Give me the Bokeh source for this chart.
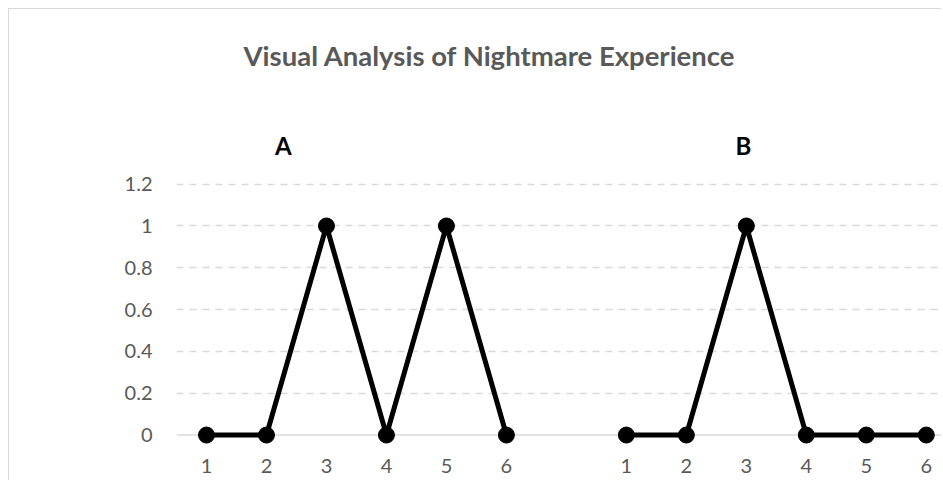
from bokeh.plotting import figure
from bokeh.models import FixedTicker, Range1d, Title, Span
from bokeh.core.properties import value
from bokeh.embed import file_html
from bokeh.resources import INLINE

# data
a_labels = ["1", "2", "3", "4", "5", "6"]
a_values = [0, 0, 1, 0, 1, 0]
b_labels = ["1", "2", "3", "4", "5", "6"]
b_values = [0, 0, 1, 0, 0, 0]
y_ticks = [0, 0.2, 0.4, 0.6, 0.8, 1.0, 1.2]
y_tick_labels = ["0", "0.2", "0.4", "0.6", "0.8", "1", "1.2"]
panel_names = ["A", "B"]
title_text = "Visual Analysis of Nightmare Experience"

FONT = "Lato"
GRAY = "#595959"

a_x = list(range(len(a_values)))
b_x = [len(a_values) + 1 + i for i in range(len(b_values))]

p = figure(width=933, height=472, output_backend="svg", toolbar_location=None,
           x_range=Range1d(-0.5, 12.27), y_range=Range1d(-0.05, 1.605),
           min_border_left=167, min_border_right=0, min_border_top=88,
           min_border_bottom=36)
p.outline_line_color = None
p.styles = {"margin-left": "8px", "margin-top": "8px",
            "border-top": "1px solid #d9d9d9", "border-left": "1px solid #d9d9d9"}

t = Title(text=title_text, text_font=FONT, text_font_size="27.5px", text_font_style="bold",
          text_color=GRAY, align="left", offset=67, standoff=55)
p.add_layout(t, "above")

# zero line
p.add_layout(Span(location=0, dimension="width", line_color="#d9d9d9",
                  line_width=1.5, level="underlay"))

for xs, ys in ((a_x, a_values), (b_x, b_values)):
    p.line(xs, ys, line_color="black", line_width=5)
    p.scatter(xs, ys, size=16, fill_color="black", line_color="black")

# panel headers
p.text(x=[1.28, 8.95], y=[1.385, 1.385], text=panel_names, text_font=value(FONT),
       text_font_size="24px", text_font_style="bold", text_color="black",
       text_align="center", text_baseline="middle")

# axes
p.xaxis.ticker = FixedTicker(ticks=a_x + b_x)
p.xaxis.major_label_overrides = {x: l for x, l in zip(a_x + b_x, a_labels + b_labels)}
p.xaxis.axis_line_color = None
p.xaxis.major_tick_line_color = None
p.xaxis.minor_tick_line_color = None
p.xaxis.major_label_standoff = 7
p.xaxis.major_label_text_font = FONT
p.xaxis.major_label_text_font_size = "20px"
p.xaxis.major_label_text_color = GRAY

p.yaxis.ticker = FixedTicker(ticks=y_ticks)
p.yaxis.major_label_overrides = {v: l for v, l in zip(y_ticks, y_tick_labels)}
p.yaxis.axis_line_color = None
p.yaxis.major_tick_line_color = None
p.yaxis.minor_tick_line_color = None
p.yaxis.major_label_standoff = 18
p.yaxis.major_label_text_font = FONT
p.yaxis.major_label_text_font_size = "20px"
p.yaxis.major_label_text_color = GRAY

p.xgrid.grid_line_color = None
p.ygrid.ticker = FixedTicker(ticks=y_ticks[1:])
p.ygrid.grid_line_color = "#d9d9d9"
p.ygrid.grid_line_width = 1.5
p.ygrid.grid_line_dash = "7 6"

open("out.html", "w").write(file_html(p, INLINE))
